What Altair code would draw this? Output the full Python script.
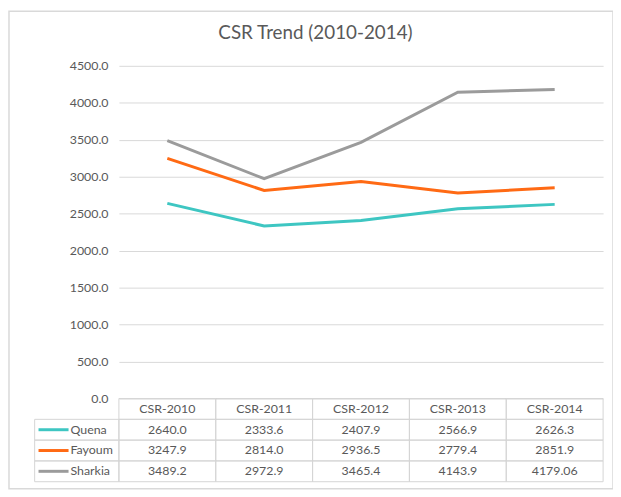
import altair as alt
import pandas as pd

categories = ["CSR-2010", "CSR-2011", "CSR-2012", "CSR-2013", "CSR-2014"]
series = ["Quena", "Fayoum", "Sharkia"]
quena = [2640.0, 2333.6, 2407.9, 2566.9, 2626.3]
fayoum = [3247.9, 2814.0, 2936.5, 2779.4, 2851.9]
sharkia = [3489.2, 2972.9, 3465.4, 4143.9, 4179.06]
colors = ["#3EC6C2", "#FF6A14", "#9B9B9B"]
y_ticks = [0, 500, 1000, 1500, 2000, 2500, 3000, 3500, 4000, 4500]

values = {"Quena": quena, "Fayoum": fayoum, "Sharkia": sharkia}

FONT = "Lato"
TXT = "#595959"
BORDER = "#d4d4d4"
ROW_H = 281.25         # table row height in y-data units
Y_MIN = -4 * ROW_H
LEG_L = -0.87          # legend column left edge in x-data units

# line data
line_rows = []
for s in series:
    for i, c in enumerate(categories):
        line_rows.append({"series": s, "cat": c, "xc": i + 0.5, "value": values[s][i]})
line_df = pd.DataFrame(line_rows)

# table cells
cell_rows = []
for i, c in enumerate(categories):
    cell_rows.append({"x0": i, "x1": i + 1, "y0": 0.0, "y1": -ROW_H})
for r, s in enumerate(series, start=1):
    cell_rows.append({"x0": LEG_L, "x1": 0, "y0": -r * ROW_H, "y1": -(r + 1) * ROW_H})
    for i in range(len(categories)):
        cell_rows.append({"x0": i, "x1": i + 1, "y0": -r * ROW_H, "y1": -(r + 1) * ROW_H})
cell_df = pd.DataFrame(cell_rows)

header_df = pd.DataFrame({"xc": [i + 0.5 for i in range(len(categories))],
                          "yc": [-0.5 * ROW_H] * len(categories),
                          "label": categories})

val_rows = []
for r, s in enumerate(series, start=1):
    for i in range(len(categories)):
        val_rows.append({"xc": i + 0.5, "yc": -(r + 0.5) * ROW_H, "label": str(values[s][i])})
val_df = pd.DataFrame(val_rows)

leg_df = pd.DataFrame({"series": series,
                       "sx0": [-0.83] * 3, "sx1": [-0.52] * 3, "tx": [-0.50] * 3,
                       "yc": [-(r + 0.5) * ROW_H for r in range(1, 4)]})

xs = alt.Scale(domain=[0, 5], nice=False, zero=False)
ys = alt.Scale(domain=[Y_MIN, 4500], nice=False, zero=False)
cs = alt.Scale(domain=series, range=colors)

y_axis = alt.Axis(values=y_ticks, format=".1f", grid=True, gridColor="#d9d9d9",
                  gridWidth=1, domain=False, ticks=False, labelPadding=11,
                  labelColor=TXT, labelFont=FONT, labelFontSize=12.5, title=None)


def Y(field):
    return alt.Y(field, scale=ys, axis=y_axis, title=None)


def X(field):
    return alt.X(field, scale=xs, axis=None)


frame = alt.Chart(pd.DataFrame({"a": [0]})).mark_rect(
    filled=False, color="#d9d9d9", strokeWidth=1.5).encode(
    x=alt.value(-111), x2=alt.value(499), y=alt.value(-55.2), y2=alt.value(427))

lines = alt.Chart(line_df).mark_line(strokeWidth=3).encode(
    x=X("xc:Q"),
    y=Y("value:Q"),
    color=alt.Color("series:N", scale=cs, legend=None),
    detail="series:N",
)

cells = alt.Chart(cell_df).mark_rect(filled=False, color=BORDER, strokeWidth=1).encode(
    x=X("x0:Q"), x2="x1:Q",
    y=Y("y0:Q"), y2="y1:Q",
)

headers = alt.Chart(header_df).mark_text(font=FONT, fontSize=12.5, color=TXT,
                                         baseline="middle").encode(
    x=X("xc:Q"), y=Y("yc:Q"), text="label:N")

vals = alt.Chart(val_df).mark_text(font=FONT, fontSize=12.5, color=TXT,
                                   baseline="middle").encode(
    x=X("xc:Q"), y=Y("yc:Q"), text="label:N")

swatches = alt.Chart(leg_df).mark_rule(strokeWidth=3).encode(
    x=X("sx0:Q"), x2="sx1:Q", y=Y("yc:Q"),
    color=alt.Color("series:N", scale=cs, legend=None))

leg_text = alt.Chart(leg_df).mark_text(font=FONT, fontSize=12.5, color=TXT,
                                       align="left", baseline="middle").encode(
    x=X("tx:Q"), y=Y("yc:Q"), text="series:N")

chart = alt.layer(lines, cells, headers, vals, swatches, leg_text, frame).properties(
    width=489, height=420,
    title=alt.TitleParams("CSR Trend (2010-2014)", font=FONT, fontSize=19,
                          fontWeight="normal", color=TXT, anchor="middle",
                          frame="group", dx=-46, offset=-33),
    autosize=alt.AutoSizeParams(type="none"),
    padding={"left": 112, "top": 56, "right": 10, "bottom": 10},
).configure_view(stroke=None)

chart.save("out.html", embed_options={"renderer": "svg", "actions": False})
